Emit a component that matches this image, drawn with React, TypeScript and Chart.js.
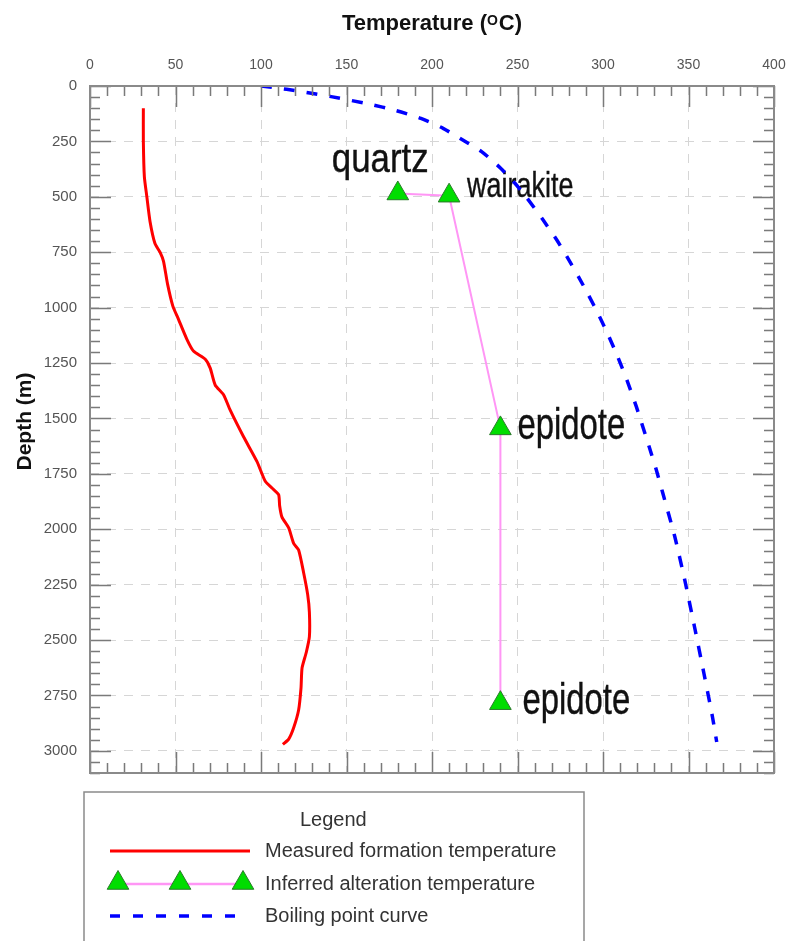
import React, { useEffect, useRef } from 'react';
import { Chart, registerables } from 'chart.js';

Chart.register(...registerables);

// ---------- data ----------
const tempTicks = [0, 50, 100, 150, 200, 250, 300, 350, 400];
const depthTicks = [0, 250, 500, 750, 1000, 1250, 1500, 1750, 2000, 2250, 2500, 2750, 3000];

const measuredDepth = [100, 250, 410, 497, 611, 711, 751, 791, 892, 992, 1052, 1142, 1196, 1232, 1273, 1349, 1393, 1463, 1583, 1694, 1784, 1814, 1844, 1894, 1944, 1994, 2064, 2094, 2195, 2295, 2375, 2485, 2555, 2626, 2716, 2816, 2896, 2947, 2971];
const measuredTemp = [31.2, 31.2, 31.8, 33.2, 35.1, 38, 41, 43, 45.3, 48.4, 51.7, 56.6, 60.5, 67.3, 70.3, 73.2, 78.1, 82, 89.8, 97.6, 102.5, 106.4, 110.3, 110.9, 112.2, 116.2, 119.1, 122, 124.9, 127.3, 128.3, 128.3, 126.5, 124, 123.4, 122, 119.1, 116.2, 112.8];

const alterationMinerals = ['quartz', 'wairakite', 'epidote', 'epidote'];
const alterationTemp = [180, 210, 240, 240];
const alterationDepth = [485, 495, 1545, 2785];

const boilingDepth = [0, 15, 33, 48, 81, 111, 146, 191, 244, 296, 370, 439, 500, 605, 695, 778, 861, 943, 1041, 1131, 1222, 1327, 1447, 1628, 1733, 1838, 2034, 2229, 2440, 2650, 2846, 2960];
const boilingTemp = [100, 115, 129.5, 141, 163, 179, 193.5, 206.5, 218, 229, 240, 248.5, 255, 265, 273, 279.5, 285.7, 291.5, 298, 303.5, 308.6, 314, 319.5, 327, 331.2, 335, 342, 347.8, 353.5, 359, 364, 366.5];

const seriesLabels = ['Measured formation temperature', 'Inferred alteration temperature', 'Boiling point curve'];
const legendTitle = 'Legend';
const xTitleParts = ['Temperature (', 'O', 'C)'];
const yTitle = 'Depth (m)';

// ---------- styles ----------
const FONT = '"Liberation Sans", Arial, Helvetica, sans-serif';
const RED = '#ff0000';
const PINK = '#ff96f5';
const GREEN = '#00dd00';
const GREEN_EDGE = '#2a7a2a';
const BLUE = '#0000ff';
const GRID = '#d6d6d6';
const TICK_TEXT = '#555555';
const FRAME = '#8a8a8a';
const MINOR_TEMP_STEP = 10;
const MINOR_DEPTH_STEP = 50;

const mineralLabelStyle = [
  { dx: -66, dy: -21, size: 41, scaleX: 0.85 },
  { dx: 18, dy: 1, size: 35, scaleX: 0.77 },
  { dx: 17, dy: 11, size: 45, scaleX: 0.73 },
  { dx: 22, dy: 11, size: 45, scaleX: 0.73 },
];

function drawTriangle(ctx: CanvasRenderingContext2D, cx: number, cy: number, r: number) {
  const s = Math.sin(Math.PI / 3) * r;
  ctx.beginPath();
  ctx.moveTo(cx, cy - r);
  ctx.lineTo(cx + s, cy + r / 2);
  ctx.lineTo(cx - s, cy + r / 2);
  ctx.closePath();
  ctx.fillStyle = GREEN;
  ctx.fill();
  ctx.lineWidth = 1;
  ctx.strokeStyle = GREEN_EDGE;
  ctx.stroke();
}

const framePlugin = {
  id: 'frame',
  beforeDatasetsDraw(chart: any) {
    const { ctx, scales } = chart;
    const x = scales.x;
    const y = scales.y;
    ctx.save();
    ctx.fillStyle = '#111111';
    ctx.strokeStyle = '#111111';
    ctx.lineWidth = 0.4;
    ctx.textBaseline = 'alphabetic';
    ctx.textAlign = 'left';
    alterationMinerals.forEach((name, i) => {
      const s = mineralLabelStyle[i];
      const px = x.getPixelForValue(alterationTemp[i]) + s.dx;
      const py = y.getPixelForValue(alterationDepth[i]) + s.dy;
      ctx.save();
      ctx.translate(px, py);
      ctx.scale(s.scaleX, 1);
      ctx.font = `${s.size}px ${FONT}`;
      ctx.fillText(name, 0, 0);
      ctx.strokeText(name, 0, 0);
      ctx.restore();
    });
    ctx.restore();
  },
  afterDraw(chart: any) {
    const { ctx, chartArea, scales } = chart;
    const { left, right, top, bottom } = chartArea;
    const x = scales.x;
    const y = scales.y;
    ctx.save();

    // minor / major tick marks inside the frame
    ctx.strokeStyle = '#7a7a7a';
    ctx.lineWidth = 1.5;
    ctx.beginPath();
    for (let t = x.min; t <= x.max; t += MINOR_TEMP_STEP) {
      const px = Math.round(x.getPixelForValue(t)) + 0.5;
      const len = t % 50 === 0 ? 21 : 10;
      ctx.moveTo(px, top);
      ctx.lineTo(px, top + len);
      ctx.moveTo(px, bottom);
      ctx.lineTo(px, bottom - len);
    }
    for (let d = y.min; d <= y.max; d += MINOR_DEPTH_STEP) {
      const py = Math.round(y.getPixelForValue(d)) + 0.5;
      const len = d % 250 === 0 ? 21 : 10;
      ctx.moveTo(left, py);
      ctx.lineTo(left + len, py);
      ctx.moveTo(right, py);
      ctx.lineTo(right - len, py);
    }
    ctx.stroke();

    // frame
    ctx.strokeStyle = FRAME;
    ctx.lineWidth = 2;
    ctx.strokeRect(left, top, right - left, bottom - top);

    // x title with superscript
    ctx.fillStyle = '#111111';
    ctx.textBaseline = 'alphabetic';
    ctx.textAlign = 'left';
    const bigFont = `bold 22px ${FONT}`;
    const supFont = `bold 14px ${FONT}`;
    ctx.font = bigFont;
    const w1 = ctx.measureText(xTitleParts[0]).width;
    const w3 = ctx.measureText(xTitleParts[2]).width;
    ctx.font = supFont;
    const w2 = ctx.measureText(xTitleParts[1]).width + 1;
    const total = w1 + w2 + w3;
    const cx = (left + right) / 2;
    let sx = cx - total / 2;
    const base = 30;
    ctx.font = bigFont;
    ctx.fillText(xTitleParts[0], sx, base);
    sx += w1;
    ctx.font = supFont;
    ctx.fillText(xTitleParts[1], sx, base - 5);
    sx += w2;
    ctx.font = bigFont;
    ctx.fillText(xTitleParts[2], sx, base);

    // y title
    ctx.save();
    ctx.translate(31, 421.5);
    ctx.rotate(-Math.PI / 2);
    ctx.textAlign = 'center';
    ctx.font = `bold 21px ${FONT}`;
    ctx.fillText(yTitle, 0, 0);
    ctx.restore();

    // legend box
    const lx = 84;
    const ly = 792;
    ctx.strokeStyle = FRAME;
    ctx.lineWidth = 1.5;
    ctx.strokeRect(lx, ly, 500, 200);

    ctx.fillStyle = '#333333';
    ctx.font = `20px ${FONT}`;
    ctx.textAlign = 'left';
    ctx.fillText(legendTitle, lx + 216, ly + 34);

    // row 1
    ctx.strokeStyle = RED;
    ctx.lineWidth = 3;
    ctx.beginPath();
    ctx.moveTo(lx + 26, ly + 59);
    ctx.lineTo(lx + 166, ly + 59);
    ctx.stroke();
    ctx.fillText(seriesLabels[0], lx + 181, ly + 65);

    // row 2
    ctx.strokeStyle = PINK;
    ctx.lineWidth = 2.5;
    ctx.beginPath();
    ctx.moveTo(lx + 34, ly + 92);
    ctx.lineTo(lx + 159, ly + 92);
    ctx.stroke();
    [34, 96, 159].forEach((ox) => drawTriangle(ctx, lx + ox, ly + 91, 12.5));
    ctx.fillStyle = '#333333';
    ctx.fillText(seriesLabels[1], lx + 181, ly + 98);

    // row 3
    ctx.strokeStyle = BLUE;
    ctx.lineWidth = 3.5;
    ctx.setLineDash([10, 13]);
    ctx.beginPath();
    ctx.moveTo(lx + 26, ly + 124);
    ctx.lineTo(lx + 154, ly + 124);
    ctx.stroke();
    ctx.setLineDash([]);
    ctx.fillText(seriesLabels[2], lx + 181, ly + 130);

    ctx.restore();
  },
};

export default function App() {
  const ref = useRef<HTMLCanvasElement>(null);

  useEffect(() => {
    const canvas = ref.current;
    if (!canvas) return;
    const chart = new Chart(canvas, {
      type: 'scatter',
      data: {
        datasets: [
          {
            label: seriesLabels[0],
            data: measuredDepth.map((d, i) => ({ x: measuredTemp[i], y: d })),
            showLine: true,
            borderColor: RED,
            borderWidth: 3,
            pointRadius: 0,
            tension: 0.2,
            order: 2,
          },
          {
            label: seriesLabels[1],
            data: alterationDepth.map((d, i) => ({ x: alterationTemp[i], y: d })),
            showLine: true,
            borderColor: PINK,
            borderWidth: 2,
            pointStyle: 'triangle',
            pointRadius: 12.5,
            pointBackgroundColor: GREEN,
            pointBorderColor: GREEN_EDGE,
            pointBorderWidth: 1,
            tension: 0,
            order: 0,
          },
          {
            label: seriesLabels[2],
            data: boilingDepth.map((d, i) => ({ x: boilingTemp[i], y: d })),
            showLine: true,
            borderColor: BLUE,
            borderWidth: 3.5,
            borderDash: [11, 12],
            pointRadius: 0,
            tension: 0.2,
            order: 1,
          },
        ],
      },
      options: {
        animation: false,
        responsive: false,
        devicePixelRatio: 1,
        events: [],
        layout: { padding: { left: 10, top: 0, right: 17, bottom: 168 } },
        plugins: {
          legend: { display: false },
          tooltip: { enabled: false },
          title: { display: false },
        },
        scales: {
          x: {
            type: 'linear',
            position: 'top',
            min: 0,
            max: 400,
            afterBuildTicks: (s: any) => {
              s.ticks = tempTicks.map((v) => ({ value: v }));
            },
            afterFit: (s: any) => {
              s.height = 86;
              s.paddingLeft = 0;
              s.paddingRight = 0;
            },
            grid: { color: GRID, lineWidth: 1, drawTicks: false },
            border: { display: false, dash: [9, 8] },
            ticks: {
              padding: 12,
              color: TICK_TEXT,
              font: { size: 14, family: FONT },
              maxRotation: 0,
              autoSkip: false,
              callback: (v: any) => String(v),
            },
          },
          y: {
            type: 'linear',
            reverse: true,
            min: 0,
            max: 3100,
            afterBuildTicks: (s: any) => {
              s.ticks = depthTicks.map((v) => ({ value: v }));
            },
            afterFit: (s: any) => {
              s.width = 80;
              s.paddingTop = 0;
              s.paddingBottom = 0;
            },
            grid: { color: GRID, lineWidth: 1, drawTicks: false },
            border: { display: false, dash: [9, 8] },
            ticks: {
              padding: 13,
              color: TICK_TEXT,
              font: { size: 15, family: FONT },
              autoSkip: false,
              callback: (v: any) => String(v),
            },
          },
        },
      },
      plugins: [framePlugin],
    } as any);
    return () => chart.destroy();
  }, []);

  return (
    <div style={{ position: 'absolute', left: 0, top: 0, width: 791, height: 941, background: '#ffffff' }}>
      <canvas ref={ref} width={791} height={941} style={{ width: 791, height: 941, display: 'block' }} />
    </div>
  );
}
